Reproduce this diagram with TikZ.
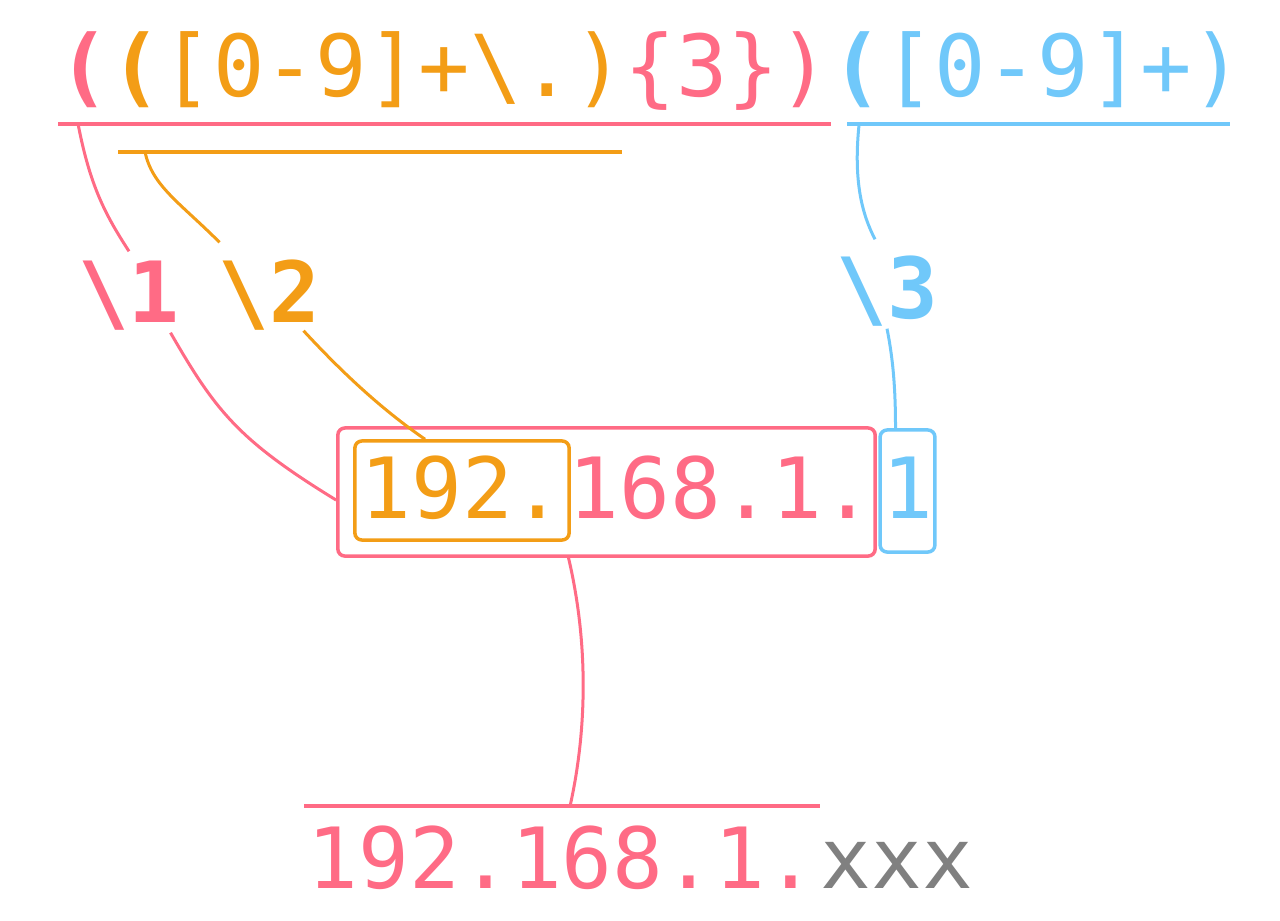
\documentclass[tikz,border=0pt]{standalone}
\usepackage{fontspec}
\usepackage{xcolor}
\usepackage{tikz}
\usetikzlibrary{positioning,calc}

\newfontfamily\codefont{DejaVu Sans Mono}
\definecolor{grpone}{RGB}{255,107,133}
\definecolor{grptwo}{RGB}{243,157,22}
\definecolor{grpthree}{RGB}{112,200,250}
\definecolor{grayx}{RGB}{128,128,128}

\begin{document}
\begin{tikzpicture}[
      x=0.01cm, y=-0.01cm,
      code_txt/.style={
         font={\codefont\fontsize{24}{28}\selectfont},
         inner sep=0pt},
      top_txt/.style={
         font={\codefont\fontsize{24.3}{28}\selectfont},
         inner sep=0pt,
         text height=0.8cm,
         text depth=0.27cm},
      lbl_txt/.style={
         font={\codefont\bfseries\fontsize{24}{28}\selectfont},
         inner sep=0pt,
         text height=0.7cm,
         text depth=0.1cm},
      box_orange/.style={
         draw=grptwo,
         line width=0.035cm,
         rounded corners=2pt},
      box_pink/.style={
         draw=grpone,
         line width=0.035cm,
         rounded corners=2pt,
         inner sep=0pt},
      box_blue/.style={
         draw=grpthree,
         line width=0.035cm,
         rounded corners=2pt},
      line_pink/.style={draw=grpone, line width=0.04cm},
      line_orange/.style={draw=grptwo, line width=0.04cm},
      line_blue/.style={draw=grpthree, line width=0.04cm},
      conn_pink/.style={draw=grpone, line width=0.03cm},
      conn_orange/.style={draw=grptwo, line width=0.03cm},
      conn_blue/.style={draw=grpthree, line width=0.03cm}
]
      \useasboundingbox (0,0) rectangle (1280,920);

      %regex on top
      \node[top_txt, anchor=base west] (rx_a) at (58,96)
         {\textcolor{grpone}{\bfseries(}\textcolor{grptwo}{\bfseries(}\textcolor{grptwo}{[0-9]+\textbackslash.)}\textcolor{grpone}{\{3\})}};
      \node[top_txt, right=0pt of rx_a] (rx_b)
         {\textcolor{grpthree}{\bfseries(}\textcolor{grpthree}{[0-9]+)}};

      \draw[line_pink] (rx_a.south west) -- (rx_a.south east);
      \draw[line_blue] ($(rx_b.south west)+(16,0)$) -- ($(rx_b.south east)+(-14,0)$);
      \coordinate (grp_two_l) at ($(rx_a.south west)+(60,28)$);
      \coordinate (grp_two_r) at ($(rx_a.south west)+(564,28)$);
      \draw[line_orange] (grp_two_l) -- (grp_two_r);

      %back references
      \node[lbl_txt, grpone, anchor=base] (ref_one) at (129,322) {\textbackslash1};
      \node[lbl_txt, grptwo, anchor=base] (ref_two) at (269,322) {\textbackslash2};
      \node[lbl_txt, grpthree, anchor=base] (ref_three) at (887,318) {\textbackslash3};

      %matched address
      \node[code_txt, box_orange, grptwo, text height=0.77cm, text depth=0.22cm,
            inner xsep=0.055cm, anchor=base] (ip_a) at (462,518) {192.};
      \node[code_txt, grpone, text height=0.77cm, text depth=0.22cm, anchor=base] (ip_b) at (721,518) {168.1.};
      \node[code_txt, box_blue, grpthree, text height=0.88cm, text depth=0.34cm,
            inner xsep=0.02cm, anchor=base] (ip_c) at (907.5,518) {1};
      \node[box_pink, minimum width=5.37cm, minimum height=1.28cm] (ip_box) at (606.5,492) {};

      %result
      \node[code_txt, grpone, text height=0.81cm, text depth=0.2cm, inner xsep=0.03cm, anchor=base] (gen_a) at (562,888) {192.168.1.};
      \node[code_txt, grayx, text height=0.81cm, text depth=0.2cm, right=0pt of gen_a] (gen_b) {xxx};
      \draw[line_pink] (gen_a.north west) -- (gen_a.north east);

      %connectors
      \draw[conn_pink] ($(rx_a.south west)+(20,0)$) .. controls +(12,62) and +(-24,-37) .. (ref_one.north);
      \draw[conn_pink] ($(ref_one.south east)+(-10,0)$) .. controls +(45,78) and +(-98,-60) .. ($(ip_box.west)+(0,8)$);
      \draw[conn_orange] ($(grp_two_l)+(27,0)$) .. controls +(7,34) and +(-40,-40) .. ($(ref_two.north west)+(2,-9)$);
      \draw[conn_orange] ($(ref_two.south east)+(-17,-2)$) .. controls +(37,40) and +(-45,-31) .. ($(ip_a.north)+(-37,0)$);
      \draw[conn_blue] ($(rx_b.south west)+(28,0)$) .. controls +(-6,57) and +(-13,-25) .. ($(ref_three.north)+(-12,-8)$);
      \draw[conn_blue] (ref_three.south) .. controls +(6,30) and +(0,-40) .. ($(ip_c.north)+(-12,0)$);
      \draw[conn_pink] ($(ip_box.south)+(-38,0)$) .. controls +(22,94) and +(15,-67) .. ($(gen_a.north)+(8,0)$);
\end{tikzpicture}
\end{document}
